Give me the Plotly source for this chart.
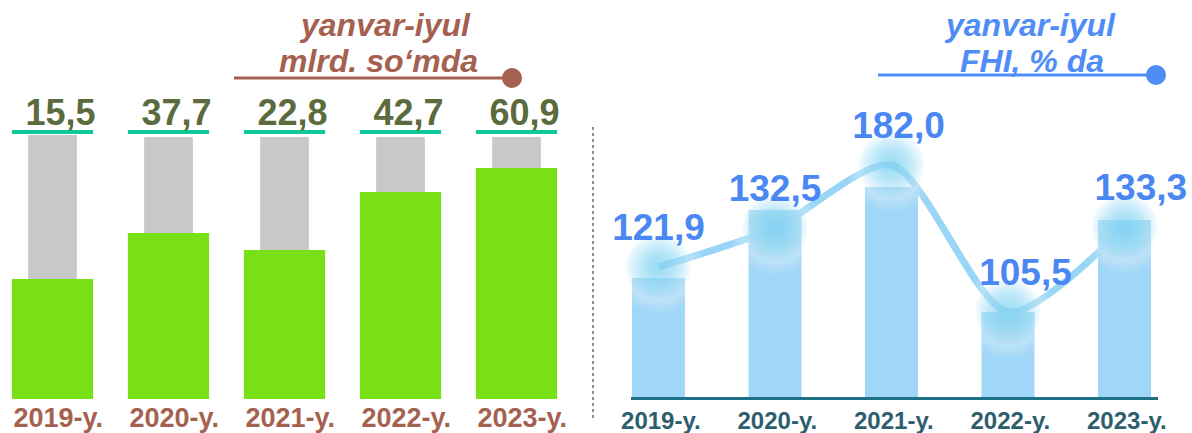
import plotly.graph_objects as go

# ---------------- data ----------------
categories = ["2019-y.", "2020-y.", "2021-y.", "2022-y.", "2023-y."]

# left panel: yanvar-iyul, mlrd. so'mda
left_values = [15.5, 37.7, 22.8, 42.7, 60.9]
left_labels = ["15,5", "37,7", "22,8", "42,7", "60,9"]
left_fill_level = [45.5, 62.9, 56.4, 78.4, 87.5]     # green fill height (0-100 scale)
left_track_level = [100, 99.2, 99.2, 99.2, 99.2]     # grey track height

# right panel: yanvar-iyul, FHI, % da
right_values = [121.9, 132.5, 182.0, 105.5, 133.3]
right_labels = ["121,9", "132,5", "182,0", "105,5", "133,3"]
right_point_level = [65, 84.5, 116, 42.5, 85]        # glow point height
right_bar_level = [59.5, 93.5, 105, 42.5, 88.5]      # bar height

# ---------------- style ----------------
FONT = "Liberation Sans, Arial, sans-serif"
W, H = 1192, 433
BROWN = "#a5614f"
BLUE = "#4a87f3"
TBLUE = "#4f8df6"
idx = list(range(len(categories)))


def px(x):
    return x / W


def py(y):
    return 1 - y / H


fig = go.Figure()

# ---- left panel ----
fig.add_bar(x=idx, y=left_track_level, width=0.42, marker=dict(color="#c8c8c8", line_width=0),
            xaxis="x", yaxis="y", hoverinfo="skip")
fig.add_bar(x=idx, y=left_fill_level, width=0.70, marker=dict(color="#79e015", line_width=0),
            xaxis="x", yaxis="y", customdata=left_values, hovertemplate="%{customdata}<extra></extra>")
fig.add_bar(x=idx, y=[1.5] * len(idx), base=[100.4] * len(idx), width=0.70,
            marker=dict(color="#10c99b", line_width=0), xaxis="x", yaxis="y", hoverinfo="skip")
fig.add_scatter(x=[i + 0.07 for i in idx], y=[107.3] * len(idx), mode="text", text=left_labels,
                textfont=dict(size=36, color="#5b6b3d", family=FONT, weight="bold"),
                cliponaxis=False, xaxis="x", yaxis="y", hoverinfo="skip")

# ---- right panel ----
fig.add_bar(x=idx, y=right_bar_level, width=0.455, marker=dict(color="#a0d7f8", line_width=0),
            xaxis="x2", yaxis="y2", customdata=right_values, hovertemplate="%{customdata}<extra></extra>")
fig.add_scatter(x=idx, y=right_point_level, mode="lines",
                line=dict(color="#98d5f7", width=7, shape="spline", smoothing=0.75),
                xaxis="x2", yaxis="y2", cliponaxis=False, hoverinfo="skip")
# soft glow: many stacked translucent discs
glow_layers = [(s, "rgba(255,255,255,0.07)") for s in range(92, 66, -5)]
glow_layers += [(s, "rgba(120,203,248,0.085)") for s in range(66, 8, -5)]
for size, col in glow_layers:
    fig.add_scatter(x=idx, y=right_point_level, mode="markers",
                    marker=dict(size=size, color=col, line_width=0),
                    xaxis="x2", yaxis="y2", cliponaxis=False, hoverinfo="skip")
label_dx = [0, 0, 0.06, 0.15, 0.14]
fig.add_scatter(x=[i + d for i, d in zip(idx, label_dx)], y=[p + 18 for p in right_point_level],
                mode="text", text=right_labels,
                textfont=dict(size=37, color=BLUE, family=FONT, weight="bold"),
                cliponaxis=False, xaxis="x2", yaxis="y2", hoverinfo="skip")

# ---- titles, decorations ----
shapes = [
    dict(type="line", xref="paper", yref="paper", x0=px(593), x1=px(593), y0=py(127), y1=py(418),
         line=dict(color="#8c8c8c", width=2, dash="dot")),
    dict(type="line", xref="paper", yref="paper", x0=px(234), x1=px(512), y0=py(78), y1=py(78),
         line=dict(color=BROWN, width=3)),
    dict(type="circle", xref="paper", yref="paper", x0=px(502), x1=px(522), y0=py(88), y1=py(68),
         fillcolor=BROWN, line_width=0),
    dict(type="line", xref="paper", yref="paper", x0=px(878), x1=px(1156), y0=py(75), y1=py(75),
         line=dict(color=TBLUE, width=3)),
    dict(type="circle", xref="paper", yref="paper", x0=px(1146), x1=px(1166), y0=py(85), y1=py(65),
         fillcolor=TBLUE, line_width=0),
]


def title_pair(l1, l2, xc1, xc2, color):
    return [
        dict(text=f"<b><i>{l1}</i></b>", x=px(xc1), y=py(44), xref="paper", yref="paper",
             showarrow=False, xanchor="center", yanchor="bottom", borderpad=0,
             font=dict(size=32, color=color, family=FONT)),
        dict(text=f"<b><i>{l2}</i></b>", x=px(xc2), y=py(42), xref="paper", yref="paper",
             showarrow=False, xanchor="center", yanchor="top", borderpad=0,
             font=dict(size=32, color=color, family=FONT)),
    ]


annotations = (title_pair("yanvar-iyul", "mlrd. so‘mda", 385, 378, BROWN)
               + title_pair("yanvar-iyul", "FHI, % da", 1030, 1032, TBLUE))

fig.update_layout(
    width=W, height=H, margin=dict(l=0, r=0, t=0, b=0, autoexpand=False),
    paper_bgcolor="white", plot_bgcolor="rgba(0,0,0,0)",
    showlegend=False, barmode="overlay",
    shapes=shapes, annotations=annotations,
    xaxis=dict(domain=[0, 0.5], range=[-0.4526, 4.6853], anchor="y", automargin=False,
               tickvals=[i + 0.05 for i in idx], ticktext=categories,
               tickfont=dict(size=27, color=BROWN, family=FONT, weight="bold"),
               showgrid=False, zeroline=False, showline=False, ticks=""),
    yaxis=dict(domain=[34 / H, 1], range=[0, 399 / 2.64], anchor="x", visible=False, automargin=False),
    xaxis2=dict(domain=[631 / W, 1158 / W], range=[-0.2361, 4.2876], anchor="y2", automargin=False,
                tickvals=[i + 0.02 for i in idx], ticktext=categories,
                tickfont=dict(size=24, color="#2e5e6e", family=FONT, weight="bold"),
                showgrid=False, zeroline=False, showline=True, linecolor="#1d7186", linewidth=3,
                ticks=""),
    yaxis2=dict(domain=[36 / H, 1], range=[0, 397 / 2], anchor="x2", visible=False, automargin=False),
)

fig.write_html("out.html", config={"displayModeBar": False},
               post_script="document.body.style.margin='0';document.body.style.overflow='hidden';")
